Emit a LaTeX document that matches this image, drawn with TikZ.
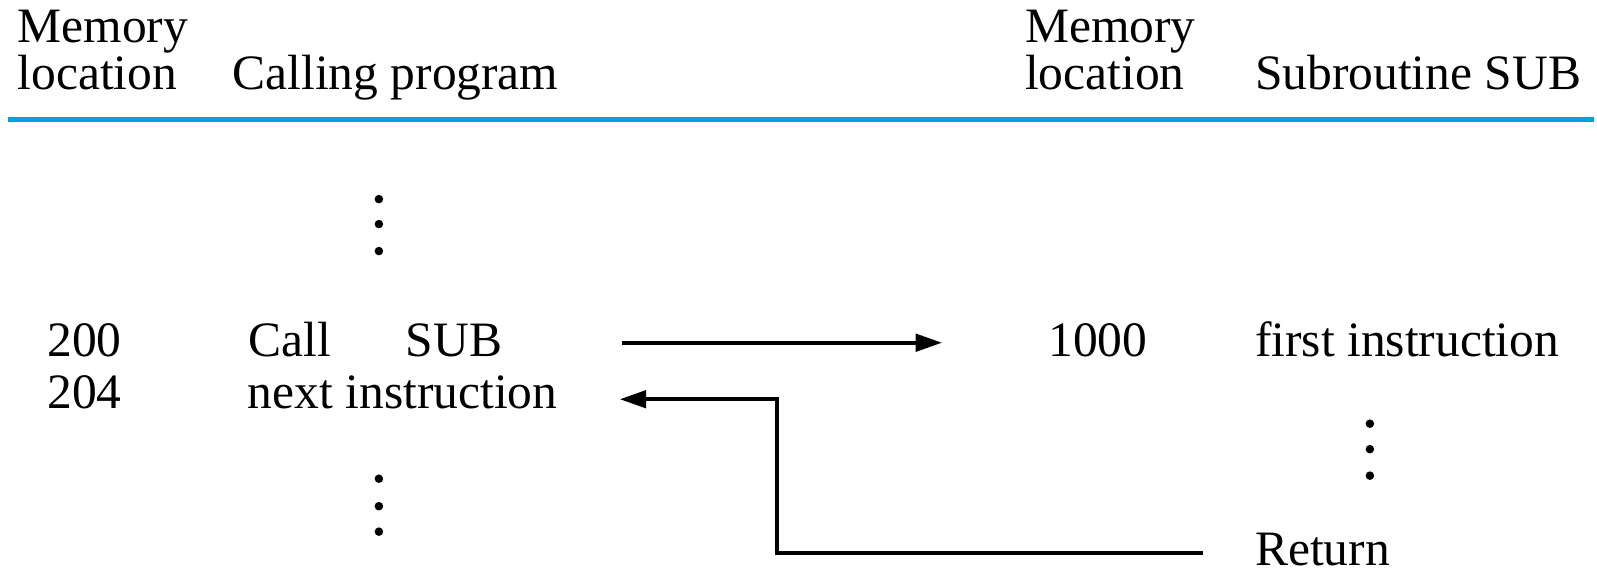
\documentclass[tikz,border=0pt]{standalone}
\usepackage{fontspec}
\setmainfont{Liberation Serif}
\usetikzlibrary{arrows.meta}
\definecolor{rulecyan}{RGB}{0,160,227}
\begin{document}
\begin{tikzpicture}[x=0.5pt,y=-0.5pt,
  txt/.style={inner sep=0pt, anchor=base west, font=\fontsize{24.3}{21}\selectfont, align=left},
  arr/.style={line width=2pt, -{Triangle[length=13pt,width=8.5pt]}},
  vdot/.style={fill=black},
]
\useasboundingbox (0,0) rectangle (1568,561);

% column headings (two-line nodes sit on the baseline of their last line)
\node[txt] (hmemA) at (17,88) {Memory\\location};
\node[txt] (hcall) at (228,88) {Calling program};
\node[txt] (hmemB) at (1006,88) {Memory\\location};
\node[txt] (hsub) at (1232,88) {Subroutine SUB};
\draw[rulecyan, line width=2.5pt] (8,117) -- (1565,117);

% calling program
\foreach \y in {195.5,220,246.5} \fill[vdot] (372,\y) circle (4.2);
\node[txt] (a200) at (46,350) {200};
\node[txt] (call) at (244,350) {Call};
\node[txt] (sub) at (398,350) {SUB};
\node[txt] (a204) at (46,401) {204};
\node[txt] (next) at (243,401) {next instruction};
\foreach \y in {470,497,522} \fill[vdot] (372,\y) circle (4.2);

% subroutine
\node[txt] (a1000) at (1029,350) {1000};
\node[txt] (first) at (1232,350) {first instruction};
\foreach \y in {416,441,467} \fill[vdot] (1345,\y) circle (4.2);
\node[txt] (ret) at (1232,555) {Return};

% call and return transfers
\path ([xshift=58.5pt]sub.east) coordinate (callfrom);
\path ([xshift=-52pt]a1000.west) coordinate (callto);
\draw[arr] (callfrom |- 0,336.5) -- (callto |- 0,336.5);
\path ([xshift=-25.5pt]ret.west) coordinate (retfrom);
\path ([xshift=30.5pt]next.east) coordinate (retto);
\coordinate (jog) at (762.6,392);
\draw[arr] (retfrom |- 0,542.6) -| (jog) -- (jog -| retto);
\end{tikzpicture}
\end{document}
